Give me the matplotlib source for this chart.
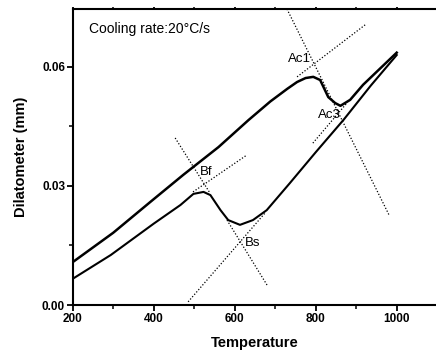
import matplotlib
matplotlib.use("Agg")
import matplotlib.pyplot as plt
import numpy as np
from matplotlib.ticker import MultipleLocator, FormatStrFormatter

plt.rcParams['font.family'] = ['Liberation Sans', 'DejaVu Sans']

# heating curve (upper)
heat_t = [200, 300, 392, 473, 560, 634, 688, 730, 754, 775, 794, 811, 831, 848, 861, 885, 917, 960, 1000]
heat_d = [0.0108, 0.0182, 0.0260, 0.0328, 0.0398, 0.0466, 0.0513, 0.0545, 0.0562, 0.0572, 0.0575,
          0.0567, 0.0524, 0.0509, 0.0502, 0.0517, 0.0555, 0.0597, 0.0636]

# cooling curve (lower)
cool_t = [200, 294, 400, 466, 498, 523, 540, 565, 584, 613, 645, 679, 736, 800, 869, 936, 1000]
cool_d = [0.0066, 0.0126, 0.0205, 0.0252, 0.0280, 0.0285, 0.0277, 0.0239, 0.0214, 0.0202,
          0.0214, 0.0239, 0.0307, 0.0385, 0.0467, 0.0553, 0.0630]

# tangent construction lines: (t0, d0, t1, d1)
tangents = [
    (729, 0.0746, 981, 0.0227),   # Ac1 steep
    (754, 0.0575, 922, 0.0706),   # Ac1 shallow
    (793, 0.0408, 877, 0.0509),   # Ac3 shallow
    (453, 0.0421, 539, 0.0282),   # Bf steep
    (497, 0.0285, 630, 0.0378),   # Bf shallow
    (581, 0.0214, 680, 0.0050),   # Bs steep
    (485, 0.0008, 675, 0.0232),   # Bs shallow
]

point_labels = ['Ac1', 'Ac3', 'Bf', 'Bs']
label_pos = [(732, 0.0620), (806, 0.0479), (515, 0.0335), (625, 0.0156)]

fig = plt.figure(figsize=(4.36, 3.55), dpi=100)
ax = fig.add_axes([72.7 / 436, 50 / 355, 1 - 72.7 / 436, 296 / 355])

ax.plot(heat_t, heat_d, color='black', lw=1.8)
ax.plot(cool_t, cool_d, color='black', lw=1.5)
for t0, d0, t1, d1 in tangents:
    ax.plot([t0, t1], [d0, d1], color='black', lw=0.9, ls=(0, (1, 1.5)))

for lab, (x, y) in zip(point_labels, label_pos):
    ax.text(x, y, lab, fontsize=9.5, ha='left', va='center')

ax.text(240, 0.0696, 'Cooling rate:20\u00b0C/s', fontsize=10, ha='left', va='center')

ax.set_xlim(200, 1097)
ax.set_ylim(0, 0.0746)
ax.xaxis.set_major_locator(MultipleLocator(200))
ax.xaxis.set_minor_locator(MultipleLocator(100))
ax.yaxis.set_major_locator(MultipleLocator(0.03))
ax.yaxis.set_minor_locator(MultipleLocator(0.015))
ax.yaxis.set_major_formatter(FormatStrFormatter('%.2f'))

for s in ['left', 'bottom', 'top']:
    ax.spines[s].set_linewidth(1.5)
ax.spines['right'].set_visible(False)

ax.tick_params(which='major', direction='out', length=4, width=1.3, labelsize=8.5, pad=1.5)
ax.tick_params(which='minor', direction='out', length=3, width=1.1)
ax.tick_params(axis='x', which='both', top=True)
ax.xaxis.set_tick_params(which='both', top=True, direction='out')
for t in ax.xaxis.get_major_ticks() + ax.xaxis.get_minor_ticks():
    t.tick2line.set_markersize(1.5)
    t.tick2line.set_color('0.5')
for lbl in ax.get_xticklabels() + ax.get_yticklabels():
    lbl.set_fontweight('bold')

ax.set_xlabel('Temperature', fontsize=10.5, fontweight='bold', labelpad=8)
ax.set_ylabel('Dilatometer (mm)', fontsize=10.5, fontweight='bold', labelpad=10)

fig.savefig('out.png', dpi=100)
